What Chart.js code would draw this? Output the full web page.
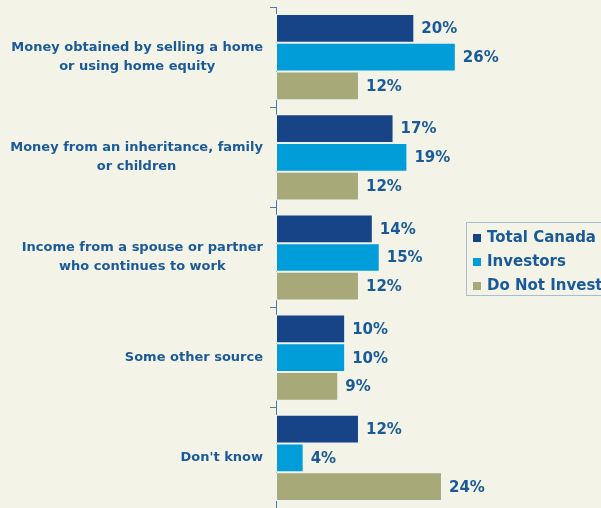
<!DOCTYPE html>
<html>
<head>
<meta charset="utf-8">
<script src="https://cdn.jsdelivr.net/npm/chart.js@4/dist/chart.umd.min.js"></script>
<style>
  html, body { margin: 0; padding: 0; background: #F3F3E7; }
  #wrap { width: 601px; height: 508px; }
</style>
</head>
<body>
<div id="wrap"><canvas id="chart" width="601" height="508"></canvas></div>
<script>
const categories = [
  ['Money obtained by selling a home', 'or using home equity'],
  ['Money from an inheritance, family', 'or children'],
  ['Income from a spouse or partner', 'who continues to work'],
  ['Some other source'],
  ["Don't know"]
];
const seriesNames = ['Total Canada', 'Investors', 'Do Not Invest'];
const totalCanada = [20, 17, 14, 10, 12];
const investors = [26, 19, 15, 10, 4];
const doNotInvest = [12, 12, 12, 9, 24];

const colors = ['#164486', '#009DD9', '#A7A978'];
const textColor = '#1A5A98';
const boldFont = '"DejaVu Sans", sans-serif';

// label kategori: baris ditengahkan, blok rata kanan
const categoryLabels = {
  id: 'categoryLabels',
  afterDraw(chart) {
    const { ctx } = chart;
    const yScale = chart.scales.y;
    const rightEdge = chart.chartArea.left - 13;
    ctx.save();
    ctx.font = 'bold 13px ' + boldFont;
    ctx.fillStyle = textColor;
    ctx.textBaseline = 'middle';
    ctx.textAlign = 'center';
    categories.forEach((lines, i) => {
      const cy = yScale.getPixelForValue(i);
      const w = Math.max(...lines.map(l => ctx.measureText(l).width));
      const cx = rightEdge - w / 2;
      const lh = 19;
      const top = cy - (lines.length - 1) * lh / 2;
      lines.forEach((l, j) => ctx.fillText(l, cx, top + j * lh));
    });
    ctx.restore();
  }
};

const valueLabels = {
  id: 'valueLabels',
  afterDatasetsDraw(chart) {
    const { ctx } = chart;
    ctx.save();
    ctx.font = 'bold 15px ' + boldFont;
    ctx.fillStyle = textColor;
    ctx.textBaseline = 'middle';
    ctx.textAlign = 'left';
    chart.data.datasets.forEach((ds, di) => {
      chart.getDatasetMeta(di).data.forEach((bar, i) => {
        ctx.fillText(ds.data[i] + '%', bar.x + 7, bar.y + 1);
      });
    });
    ctx.restore();
  }
};

const boxLegend = {
  id: 'boxLegend',
  afterDraw(chart) {
    const { ctx } = chart;
    const x = 466.5, y = 222.5, h = 73;
    ctx.save();
    ctx.strokeStyle = '#A9BCD0';
    ctx.lineWidth = 1;
    ctx.strokeRect(x, y, 200, h);
    ctx.font = 'bold 15px ' + boldFont;
    ctx.textBaseline = 'middle';
    ctx.textAlign = 'left';
    chart.data.datasets.forEach((ds, i) => {
      const cy = 238 + i * 24;
      ctx.fillStyle = ds.backgroundColor;
      ctx.fillRect(473, cy - 4, 8, 8);
      ctx.fillStyle = textColor;
      ctx.fillText(ds.label, 487, cy);
    });
    ctx.restore();
  }
};

const bgFill = {
  id: 'bgFill',
  beforeDraw(chart) {
    const { ctx } = chart;
    ctx.save();
    ctx.fillStyle = '#F3F3E7';
    ctx.fillRect(0, 0, chart.width, chart.height);
    ctx.restore();
  }
};

new Chart(document.getElementById('chart').getContext('2d'), {
  type: 'bar',
  data: {
    labels: categories,
    datasets: [totalCanada, investors, doNotInvest].map((d, i) => ({
      label: seriesNames[i],
      data: d,
      backgroundColor: colors[i],
      borderColor: '#EEF3F4',
      borderWidth: 1,
      borderSkipped: false,
      barPercentage: 1,
      categoryPercentage: 0.86
    }))
  },
  options: {
    indexAxis: 'y',
    responsive: false,
    animation: false,
    layout: { padding: { top: 7, right: 0, bottom: -2, left: 0 } },
    plugins: {
      legend: { display: false },
      tooltip: { enabled: false }
    },
    scales: {
      x: {
        display: false,
        min: 0,
        max: 47
      },
      y: {
        afterFit(scale) { scale.width = 276; },
        ticks: { display: false },
        grid: {
          offset: true,
          drawOnChartArea: false,
          drawTicks: true,
          tickLength: 6,
          color: '#4D79A8',
          lineWidth: 1
        },
        border: { display: true, color: '#4D79A8', width: 1 }
      }
    }
  },
  plugins: [bgFill, categoryLabels, valueLabels, boxLegend]
});
</script>
</body>
</html>
